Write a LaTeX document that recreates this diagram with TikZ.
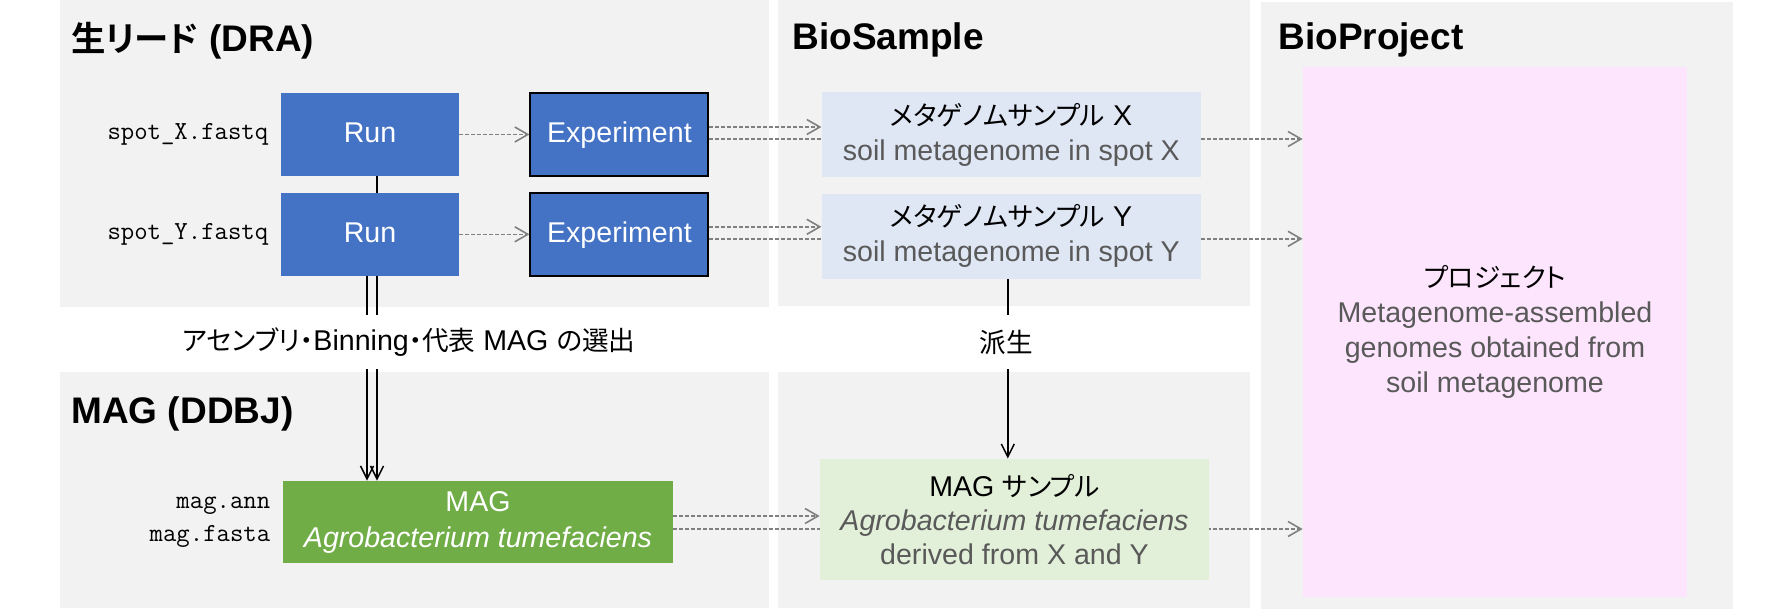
\documentclass[tikz,border=0pt]{standalone}
\usepackage{fontspec}
\setmainfont{Liberation Sans}
\newfontfamily\jp[Scale=0.93,RawFeature={+palt},BoldFont={Noto Sans CJK JP Bold}]{Noto Sans CJK JP}
\usepackage{xcolor}
\usepackage{tikz}
\usetikzlibrary{positioning,arrows.meta,calc}

\definecolor{panelgray}{HTML}{F2F2F2}
\definecolor{runblue}{HTML}{4472C4}
\definecolor{magreen}{HTML}{70AD47}
\definecolor{sampleblue}{HTML}{DFE6F4}
\definecolor{samplegreen}{HTML}{E2F0D9}
\definecolor{projpink}{HTML}{FDE5FD}
\definecolor{textgray}{HTML}{595959}
\definecolor{linkgray}{HTML}{808080}

\newcommand\bodyfont{\fontsize{14.3pt}{17.5pt}\selectfont}

\pgfdeclarelayer{panel}
\pgfdeclarelayer{links}
\pgfsetlayers{panel,links,main}

\begin{document}
\begin{tikzpicture}[
    x=0.5pt, y=-0.5pt,
    node distance=8pt and 35pt,
    panel/.style={fill=panelgray},
    heading/.style={anchor=base west, inner sep=0pt, font=\fontsize{18.5pt}{22pt}\selectfont\bfseries},
    runbox/.style={rectangle, fill=runblue, text=white, minimum width=89pt, minimum height=41.5pt, inner sep=0pt, text height=10.5pt, text depth=2.5pt, font=\bodyfont},
    expbox/.style={runbox, draw=black, line width=1pt},
    samplebox/.style={rectangle, fill=sampleblue, minimum width=189.5pt, minimum height=42.5pt, inner sep=0pt, align=center, font=\bodyfont},
    magbox/.style={rectangle, fill=magreen, text=white, minimum width=195pt, minimum height=41pt, inner sep=0pt, align=center, font=\fontsize{14.3pt}{18pt}\selectfont},
    magsample/.style={rectangle, fill=samplegreen, minimum width=194.5pt, minimum height=60.5pt, inner sep=0pt, align=center, font=\fontsize{14.3pt}{17pt}\selectfont},
    projectbox/.style={rectangle, fill=projpink, minimum width=192pt, minimum height=265pt, inner sep=0pt, align=center, font=\bodyfont},
    filename/.style={inner sep=0pt, align=right, font=\fontsize{13pt}{16.5pt}\selectfont\ttfamily},
    steplabel/.style={fill=white, inner xsep=4pt, inner ysep=0pt, minimum height=27pt, font=\bodyfont},
    arrow/.style={-{Straight Barb[length=6.5pt,width=6.5pt]}, line width=0.75pt, black},
    refarrow/.style={-{Straight Barb[length=6.5pt,width=7.5pt]}, line width=0.8pt, linkgray, dash pattern=on 2pt off 1pt}
]
\useasboundingbox (0,0) rectangle (1770,610);

% Panels
\begin{pgfonlayer}{panel}
\fill[panel] (60,0) rectangle (769,307);
\fill[panel] (60,372) rectangle (769,608);
\fill[panel] (778,0) rectangle (1250,306);
\fill[panel] (778,372) rectangle (1250,608);
\fill[panel] (1261,2) rectangle (1733,609);
\end{pgfonlayer}

% Headings
\node[heading] (draHead) at (71,52) {{\jp 生リード} (DRA)};
\node[heading] (sampleHead) at (792,50) {BioSample};
\node[heading] (projectHead) at (1278,50) {BioProject};
\node[heading] (ddbjHead) at (71,423) {MAG (DDBJ)};

% Raw reads
\node[runbox] (run1) at (370,134.5) {Run};
\node[runbox, below=of run1] (run2) {Run};
\node[expbox, right=of run1] (exp1) {Experiment};
\node[expbox, right=of run2] (exp2) {Experiment};
\node[filename, left=6pt of run1] (fileX) {spot\_X.fastq};
\node[filename, left=6pt of run2] (fileY) {spot\_Y.fastq};

% BioSample
\node[samplebox, right=56pt of exp1] (sampX) {{\jp メタゲノムサンプル} X\\\textcolor{textgray}{soil metagenome in spot X}};
\node[samplebox, below=of sampX] (sampY) {{\jp メタゲノムサンプル} Y\\\textcolor{textgray}{soil metagenome in spot Y}};

% MAG
\node[magbox] (mag) at (478,522) {MAG\\\textit{Agrobacterium tumefaciens}};
\node[filename, left=6pt of mag] (magFiles) {mag.ann\\mag.fasta};
\node[magsample] (magSamp) at (1014.5,519.5) {MAG {\jp サンプル}\\\textcolor{textgray}{\textit{Agrobacterium tumefaciens}}\\\textcolor{textgray}{derived from X and Y}};

% BioProject
\node[projectbox] (proj) at (1495,332) {{\jp プロジェクト}\\\textcolor{textgray}{Metagenome-assembled}\\\textcolor{textgray}{genomes obtained from}\\\textcolor{textgray}{soil metagenome}};

% Arrows
\begin{pgfonlayer}{links}
\draw[refarrow] (run1) -- (exp1);
\draw[refarrow] (run2) -- (exp2);
\draw[refarrow] ([yshift=3.75pt]exp1.east) -- ([yshift=3.75pt]exp1.east -| sampX.west);
\draw[refarrow] ([yshift=-2.25pt]exp1.east) -- ([yshift=-2.25pt]exp1.east -| proj.west);
\draw[refarrow] ([yshift=3.75pt]exp2.east) -- ([yshift=3.75pt]exp2.east -| sampY.west);
\draw[refarrow] ([yshift=-2.25pt]exp2.east) -- ([yshift=-2.25pt]exp2.east -| proj.west);
\draw[refarrow] ([yshift=3pt]mag.east) -- ([yshift=3pt]mag.east -| magSamp.west);
\draw[refarrow] ([yshift=-3.5pt]mag.east) -- ([yshift=-3.5pt]mag.east -| proj.west);
\draw[arrow] ([xshift=3.5pt]run1.south) -- ([xshift=3.5pt]run1.south |- mag.north);
\draw[arrow] ([xshift=-1.5pt]run2.south) -- ([xshift=-1.5pt]run2.south |- mag.north);
\draw[arrow] ([xshift=-1.75pt]sampY.south) -- ([xshift=-1.75pt]sampY.south |- magSamp.north);
\end{pgfonlayer}

% Step labels
\node[steplabel] (asmLabel) at (409,342) {{\jp アセンブリ・}Binning{\jp ・代表} MAG {\jp の選出}};
\node[steplabel] (deriveLabel) at (1006,342) {{\jp 派生}};

\end{tikzpicture}
\end{document}
